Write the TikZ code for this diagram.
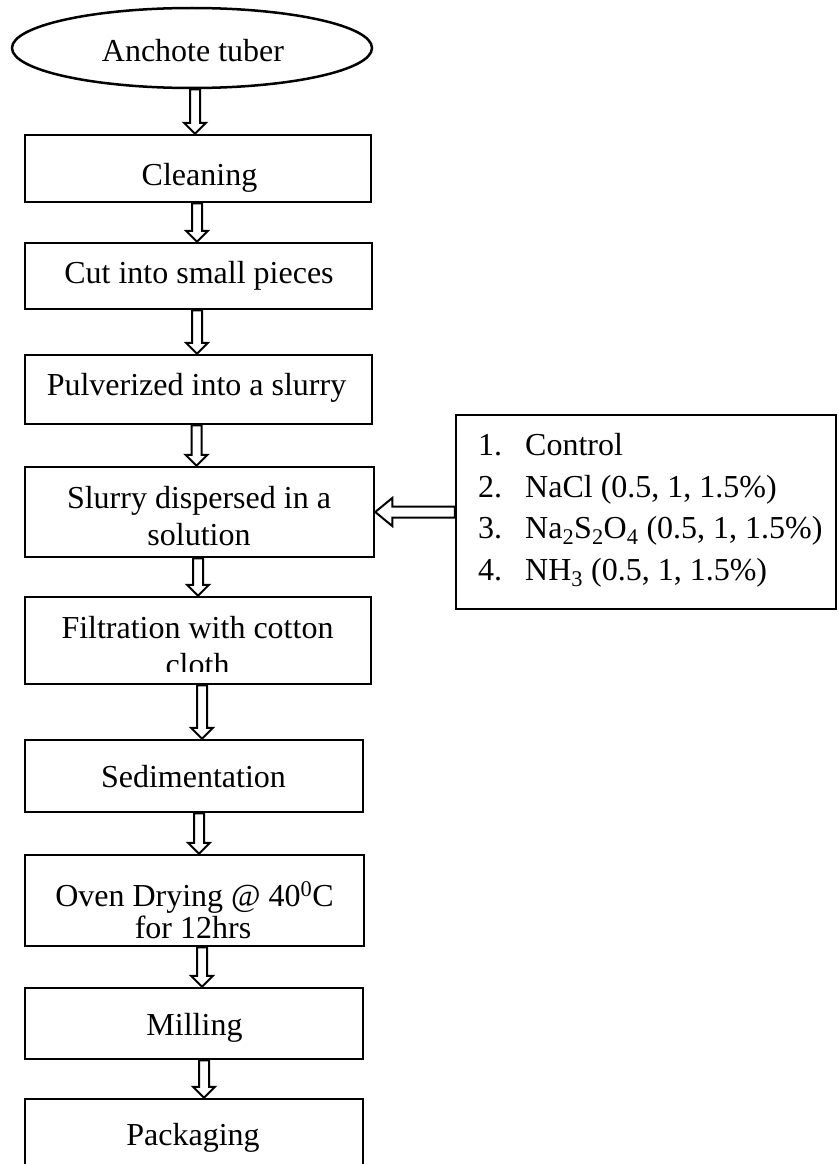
\documentclass[tikz,border=0pt]{standalone}
\usepackage{fontspec}
\setmainfont{Liberation Serif}
\usetikzlibrary{calc,shapes.geometric}
\tikzset{
  box/.style={draw, line width=2.5pt, inner sep=0pt, rectangle},
  oval/.style={draw, ellipse, line width=2.5pt, inner sep=0pt},
  txt/.style={inner sep=0pt, font=\fontsize{32}{37}\selectfont, anchor=base},
  harrow/.style={draw, line width=2pt, fill=white, line join=miter},
}
\newcommand\downconn[3]{%
  \draw[harrow] let \p1=($(#1.south)+(#3pt,0pt)$), \p2=(#2.north) in
  (\x1-5pt,\y1) -- (\x1+5pt,\y1) -- (\x1+5pt,\y2+11pt) -- (\x1+11pt,\y2+11pt)
  -- (\x1,\y2) -- (\x1-11pt,\y2+11pt) -- (\x1-5pt,\y2+11pt) -- cycle;}
\begin{document}
\begin{tikzpicture}[x=1pt,y=-1pt]
\clip (0,0) rectangle (838,1164);
% boxes
\node[oval, minimum width=360pt, minimum height=80pt] (tuber) at (192,48) {};
\node[box, minimum width=346pt, minimum height=67pt] (clean) at (198,168.5) {};
\node[box, minimum width=347pt, minimum height=66pt] (cut) at (198.5,276) {};
\node[box, minimum width=347pt, minimum height=69pt] (pulv) at (198.5,389.5) {};
\node[box, minimum width=349pt, minimum height=90pt] (slurry) at (199.5,512) {};
\node[box, minimum width=346pt, minimum height=87pt] (filt) at (198,640.5) {};
\node[box, minimum width=338pt, minimum height=72pt] (sed) at (194,776) {};
\node[box, minimum width=339pt, minimum height=91pt] (oven) at (194.5,900.5) {};
\node[box, minimum width=338pt, minimum height=71pt] (mill) at (194,1023.5) {};
\node[box, minimum width=338pt, minimum height=90pt] (pack) at (194,1144) {};
\node[box, minimum width=380pt, minimum height=194pt] (side) at (646,512) {};
% texts
\node[txt] (tubert) at (193,62) {Anchote tuber};
\node[txt] (cleant) at (199.5,185) {Cleaning};
\node[txt] (cutt) at (199,283) {Cut into small pieces};
\node[txt] (pulvt) at (196.5,395) {Pulverized into a slurry};
\node[txt] (slurryta) at (199,508) {Slurry dispersed in a};
\node[txt] (slurrytb) at (199,545) {solution};
\begin{scope}
\clip (30,597) rectangle (370,671);
\node[txt] (filtta) at (197.5,638) {Filtration with cotton};
\node[txt] (filttb) at (197.5,675) {cloth};
\end{scope}
\node[txt] (sedt) at (193.5,787) {Sedimentation};
\node[txt] (oventa) at (194.5,906) {Oven Drying @ 40\textsuperscript{0}C};
\node[txt] (oventb) at (193,938) {for 12hrs};
\node[txt] (millt) at (194.5,1035) {Milling};
\node[txt] (packt) at (193,1145) {Packaging};
% side list
\node[txt, anchor=base west] (n1) at (478,455) {1.};
\node[txt, anchor=base west] (n2) at (478,497) {2.};
\node[txt, anchor=base west] (n3) at (478,538) {3.};
\node[txt, anchor=base west] (n4) at (478,580) {4.};
\node[txt, anchor=base west] (l1) at (525,455) {Control};
\node[txt, anchor=base west] (l2) at (525,497) {NaCl (0.5, 1, 1.5\%)};
\node[txt, anchor=base west] (l3) at (525,538) {Na\textsubscript{2}S\textsubscript{2}O\textsubscript{4} (0.5, 1, 1.5\%)};
\node[txt, anchor=base west] (l4) at (525,580) {NH\textsubscript{3} (0.5, 1, 1.5\%)};
% arrows
\downconn{tuber}{clean}{3}
\downconn{clean}{cut}{-1}
\downconn{cut}{pulv}{-1.5}
\downconn{pulv}{slurry}{-2}
\downconn{slurry}{filt}{-1.5}
\downconn{filt}{sed}{4}
\downconn{sed}{oven}{5}
\downconn{oven}{mill}{7.5}
\downconn{mill}{pack}{10}
\draw[harrow] let \p1=(side.west), \p2=(slurry.east) in
  (\x1,\y1+5.5pt) -- (\x2+17pt,\y1+5.5pt) -- (\x2+17pt,\y1+14pt) -- (\x2,\y1)
  -- (\x2+17pt,\y1-14pt) -- (\x2+17pt,\y1-5.5pt) -- (\x1,\y1-5.5pt) -- cycle;
\end{tikzpicture}
\end{document}
